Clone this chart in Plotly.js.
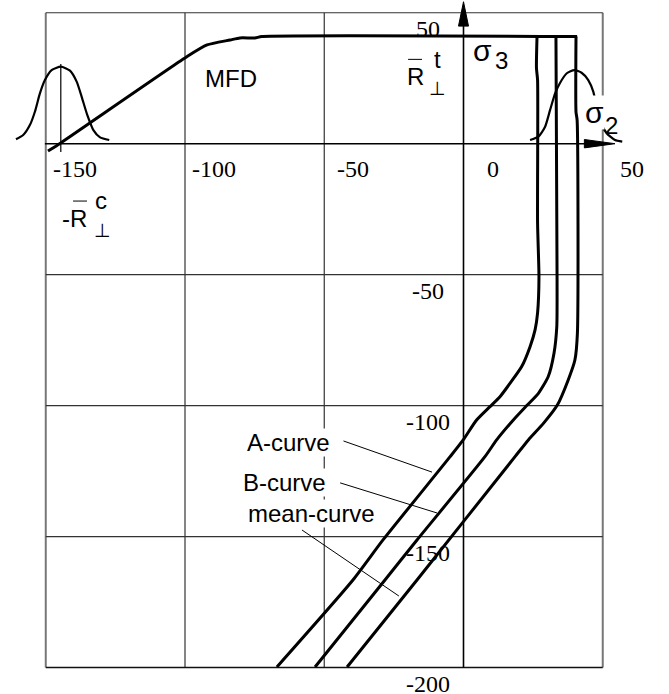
<!DOCTYPE html>
<html>
<head>
<meta charset="utf-8">
<script src="https://cdn.plot.ly/plotly-3.0.1.min.js"></script>
<style>html,body{margin:0;padding:0;background:#fff;}#chart{width:669px;height:694px;}</style>
</head>
<body>
<div id="chart"></div>
<script>
// ---- data ----
const xTicks = [-150, -100, -50, 0, 50];
const xTickLabels = ['-150', '-100', '-50', '0', '50'];
const yTicks = [50, -50, -100, -150, -200];
const yTickLabels = ['50', '-50', '-100', '-150', '-200'];
const gridX = [-150, -100, -50, 0, 50];
const gridY = [50, 0, -50, -100, -150, -200];

const mfdX = [-149.2, -144.5, -99.5, -92.1, -83.8, -80.3, -74.9, -72.4, 40.8];
const mfdY = [-2.8, 0.4, 33.1, 37.7, 39.6, 40.4, 40.4, 40.9, 40.9];

const aCurveX = [26.4, 26.2, 26.6, 26.6, 27.1, 26.6, 25.7, 23.9, 20.9, 16.7, 13.1, 9.5, 4.7, -0.1, -4.8, -28.9, -39.7, -67.0];
const aCurveY = [40.9, 28.9, 24.3, -30.3, -50.9, -64.6, -71.1, -77.5, -85.1, -91.5, -96.6, -100.4, -105.5, -113.1, -119.5, -151.3, -166.6, -199.8];

const bCurveX = [33.2, 33.6, 33.5, 32.5, 30.4, 26.9, 22.9, 17.9, 11.9, 7.7, -16.7, -28.2, -53.3];
const bCurveY = [40.9, -52.0, -69.9, -80.0, -89.0, -95.3, -99.8, -105.5, -113.1, -119.5, -151.3, -166.6, -199.8];

const meanCurveX = [40.4, 40.4, 40.8, 40.9, 40.0, 37.6, 33.7, 28.7, 23.3, 18.5, -16.7, -41.8];
const meanCurveY = [40.9, 12.1, 9.0, -72.4, -82.6, -90.2, -99.8, -106.8, -113.1, -119.5, -166.6, -199.8];

const gaussLX = [-160.7, -158.1, -155.7, -153.9, -152.1, -150.3, -147.9, -144.6, -141.3, -138.9, -137.1, -135.1, -132.9, -130.5, -127.2];
const gaussLY = [1.7, 3.3, 7.1, 12.2, 19.2, 24.3, 28.1, 29.4, 27.9, 23.7, 17.9, 11.0, 5.2, 2.4, 1.4];

const gaussRX = [23.9, 26.9, 29.3, 31.1, 32.9, 34.6, 37.1, 39.8, 42.4, 44.8, 46.6, 47.8, 49.4, 51.4, 54.4, 57.0];
const gaussRY = [1.4, 2.7, 6.5, 12.9, 19.2, 23.1, 26.9, 28.1, 27.1, 24.3, 19.9, 14.1, 7.8, 4.0, 1.4, 0.8];

const curveLabels = ['A-curve', 'B-curve', 'mean-curve'];

// ---- build ----
const lineTrace = (x, y, w, shape) => ({
  type: 'scatter', mode: 'lines', x: x, y: y, hoverinfo: 'skip',
  line: {color: '#000', width: w, shape: shape || 'linear', smoothing: 0.6},
  cliponaxis: false
});

const traces = [
  lineTrace(mfdX, mfdY, 3, 'spline'),
  lineTrace(aCurveX, aCurveY, 3, 'spline'),
  lineTrace(bCurveX, bCurveY, 3, 'spline'),
  lineTrace(meanCurveX, meanCurveY, 3, 'spline'),
  lineTrace(gaussLX, gaussLY, 2.2, 'spline'),
  lineTrace(gaussRX, gaussRY, 2.2, 'spline')
];

const shapes = [];
const xMin = gridX[0], xMax = gridX[gridX.length - 1];
const yMax = gridY[0], yMin = gridY[gridY.length - 1];
gridX.forEach((gx, i) => {
  if (gx === 0) return;
  const border = (i === 0 || i === gridX.length - 1);
  shapes.push({type: 'line', layer: 'below', x0: gx, x1: gx, y0: yMin, y1: yMax,
    line: {color: border ? '#777' : '#333', width: border ? 2 : 1.2}});
});
gridY.forEach((gy, i) => {
  if (gy === 0) return;
  const bottom = (i === gridY.length - 1);
  shapes.push({type: 'line', layer: 'below', x0: xMin, x1: xMax, y0: gy, y1: gy,
    line: {color: bottom ? '#111' : '#333', width: bottom ? 1.6 : 1.2}});
});
// axes with arrows
shapes.push({type: 'line', x0: -150.3, x1: 45, y0: 0, y1: 0, line: {color: '#000', width: 1.6}});
shapes.push({type: 'line', x0: 0, x1: 0, y0: yMin, y1: 46, line: {color: '#000', width: 1.6}});
shapes.push({type: 'path', path: 'M 43.4 1.6 L 54.4 0 L 43.4 -1.6 Z', fillcolor: '#000', line: {color: '#000', width: 1}});
shapes.push({type: 'path', path: 'M -1.8 44.9 L 0 54.2 L 1.8 44.9 Z', fillcolor: '#000', line: {color: '#000', width: 1}});
// vertical line through left distribution peak
shapes.push({type: 'line', x0: -144.6, x1: -144.6, y0: 30.4, y1: -3.2, line: {color: '#000', width: 1.2}});
// pointer lines for curve labels
shapes.push({type: 'line', x0: -43.1, y0: -113.5, x1: -11.3, y1: -125.4, line: {color: '#000', width: 1}});
shapes.push({type: 'line', x0: -44.3, y0: -129.5, x1: -9.5, y1: -141.0, line: {color: '#000', width: 1}});
shapes.push({type: 'line', x0: -58.0, y0: -147.5, x1: -23.2, y1: -172.7, line: {color: '#000', width: 1}});
// overbars on R
shapes.push({type: 'line', x0: -19.9, x1: -14.9, y0: 32.2, y1: 32.2, line: {color: '#000', width: 1}});
shapes.push({type: 'line', x0: -140.2, x1: -135.2, y0: -21.9, y1: -21.9, line: {color: '#000', width: 1}});

const serif = {family: 'Liberation Serif', size: 24, color: '#000'};
const sans = {family: 'Liberation Sans', size: 24, color: '#000'};
const perp = {family: 'DejaVu Sans', size: 19, color: '#000000'};
const sigmaFont = {family: 'Liberation Sans', size: 30, color: '#000'};
const ann = (x, y, text, font, extra) => Object.assign({
  x: x, y: y, xref: 'x', yref: 'y', text: text, showarrow: false,
  xanchor: 'center', yanchor: 'middle', font: font, borderpad: 0
}, extra || {});

const annotations = [];
xTicks.forEach((t, i) => annotations.push(ann(t, 0, xTickLabels[i], serif, {xshift: 29, yshift: -25})));
yTicks.forEach((t, i) => annotations.push(ann(0, t, yTickLabels[i], serif, {xshift: -36, yshift: -16.2, height: 19, valign: 'middle'})));

annotations.push(ann(-83.5, 24.8, 'MFD', sans));
annotations.push(ann(-62.8, -113.9, curveLabels[0], sans, {bgcolor: '#fff'}));
annotations.push(ann(-64.1, -129.2, curveLabels[1], sans, {bgcolor: '#fff'}));
annotations.push(ann(-54.6, -141.3, curveLabels[2], sans, {bgcolor: '#fff'}));

// R-bar perpendicular t
annotations.push(ann(-17.4, 25.85, 'R', sans));
annotations.push(ann(-9.5, 32.0, 't', sans));
annotations.push(ann(-9.5, 21.2, '⊥', perp));
// -R-bar perpendicular c
annotations.push(ann(-139.7, -28.5, '-R', sans));
annotations.push(ann(-130.0, -21.5, 'c', sans));
annotations.push(ann(-129.8, -33.0, '⊥', perp));
// sigma labels
annotations.push(ann(7.0, 35.4, 'σ', sigmaFont));
annotations.push(ann(13.6, 31.6, '3', sans));
annotations.push(ann(47.2, 11.9, 'σ', sigmaFont, {bgcolor: '#fff'}));
annotations.push(ann(53.0, 7.1, '2', sans));

const layout = {
  width: 669, height: 694,
  margin: {l: 0, r: 0, t: 0, b: 0, pad: 0},
  paper_bgcolor: '#fff', plot_bgcolor: '#fff',
  showlegend: false,
  xaxis: {range: [-166.43, 73.79], visible: false, fixedrange: true},
  yaxis: {range: [-210.12, 54.87], visible: false, fixedrange: true},
  shapes: shapes,
  annotations: annotations
};

Plotly.newPlot('chart', traces, layout, {displayModeBar: false, staticPlot: true});
</script>
</body>
</html>
